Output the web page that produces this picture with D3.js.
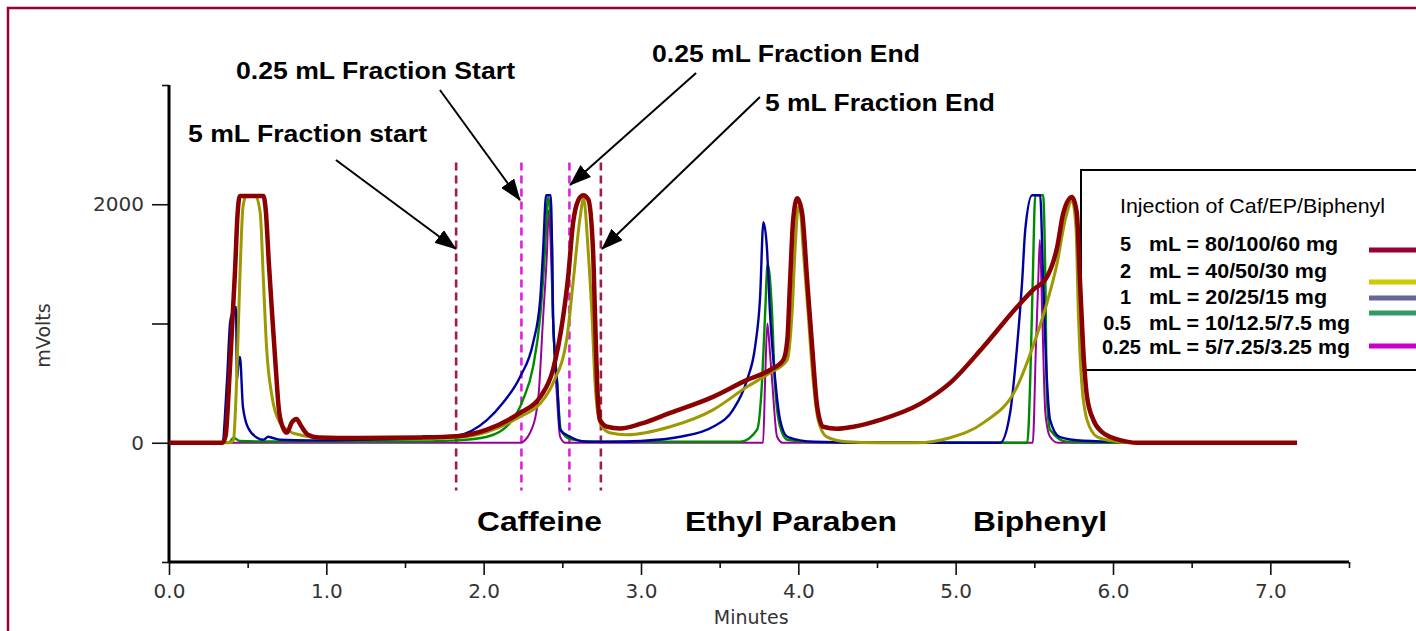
<!DOCTYPE html>
<html><head><meta charset="utf-8">
<script src="https://cdn.jsdelivr.net/npm/d3@7"></script>
<style>body{margin:0;background:#fff;} svg{display:block;}</style>
</head><body>
<svg id="chart" width="1416" height="631"></svg>
<script>
// ---------------- DATA ----------------
const seriesNames = ["5 mL", "2 mL", "1 mL", "0.5 mL", "0.25 mL"];
const legendAmounts = ["5", "2", "1", "0.5", "0.25"];
const legendLabels = ["mL = 80/100/60 mg", "mL = 40/50/30 mg", "mL = 20/25/15 mg", "mL = 10/12.5/7.5 mg", "mL = 5/7.25/3.25 mg"];
const legendTitle = "Injection of Caf/EP/Biphenyl";

// [minutes, mVolts]
const trace5mL = [[0,0],[0.34,0],[0.36,60],[0.38,450],[0.40,950],[0.42,1450],[0.435,1900],[0.45,2070],[0.60,2070],[0.615,1950],[0.635,1500],[0.655,1090],[0.68,600],[0.70,260],[0.73,110],[0.75,85],[0.78,170],[0.81,200],[0.84,140],[0.88,70],[0.95,45],[1.2,40],[1.6,45],[1.83,55],[2.02,110],[2.23,250],[2.36,385],[2.44,610],[2.505,1055],[2.537,1390],[2.568,1840],[2.60,2030],[2.632,2075],[2.665,2040],[2.695,1615],[2.708,1055],[2.721,500],[2.74,190],[2.785,134],[2.867,120],[3.0,160],[3.185,250],[3.458,385],[3.674,527],[3.82,610],[3.905,695],[3.93,862],[3.948,1364],[3.967,1866],[3.993,2050],[4.024,1925],[4.056,1364],[4.088,803],[4.12,301],[4.158,134],[4.247,117],[4.35,134],[4.52,192],[4.774,326],[4.965,502],[5.175,803],[5.39,1138],[5.49,1280],[5.58,1390],[5.645,1640],[5.684,1925],[5.74,2060],[5.77,1925],[5.79,1364],[5.81,803],[5.835,385],[5.875,192],[5.93,90],[5.98,50],[6.05,20],[6.15,0],[7.17,0]];
const trace2mL = [[0,0],[0.38,0],[0.40,10],[0.41,25],[0.43,527],[0.45,1364],[0.47,1975],[0.49,2070],[0.55,2070],[0.58,1925],[0.60,1364],[0.62,803],[0.655,385],[0.705,167],[0.77,92],[0.83,67],[0.94,42],[1.2,35],[1.6,38],[1.83,45],[2.02,90],[2.231,218],[2.36,330],[2.441,500],[2.53,887],[2.568,1340],[2.613,1890],[2.635,2050],[2.664,1615],[2.689,1055],[2.708,500],[2.74,167],[2.80,84],[2.91,67],[3.185,134],[3.458,276],[3.674,469],[3.82,586],[3.93,695],[3.96,1088],[3.98,1640],[4.0,1980],[4.015,1925],[4.03,1640],[4.062,1088],[4.094,527],[4.126,192],[4.18,50],[4.31,8],[4.5,0],[4.75,0],[4.965,42],[5.175,167],[5.39,469],[5.49,803],[5.58,1172],[5.645,1506],[5.696,1866],[5.74,2030],[5.765,1800],[5.78,1088],[5.80,527],[5.835,192],[5.9,50],[6.03,8],[6.08,0]];
const trace1mL = [[0,0],[0.337,0],[0.369,527],[0.388,1004],[0.40,1080],[0.426,1138],[0.432,527],[0.44,650],[0.451,720],[0.47,301],[0.503,125],[0.56,42],[0.60,25],[0.63,50],[0.66,40],[0.705,25],[0.9,20],[1.2,25],[1.6,35],[1.83,59],[2.022,192],[2.123,335],[2.231,552],[2.314,837],[2.359,1197],[2.378,1615],[2.397,2075],[2.426,2075],[2.435,1615],[2.441,1055],[2.467,500],[2.486,109],[2.549,50],[2.657,8],[2.8,8],[3.0,15],[3.249,50],[3.458,134],[3.585,276],[3.674,527],[3.725,803],[3.757,1222],[3.778,1850],[3.80,1640],[3.82,1088],[3.853,527],[3.884,192],[3.93,50],[4.1,8],[4.5,0],[5.283,0],[5.346,251],[5.39,803],[5.423,1364],[5.442,1782],[5.486,2075],[5.537,2075],[5.556,1364],[5.58,527],[5.60,192],[5.66,50],[5.81,17],[6.08,8]];
const trace05mL = [[0,0],[0.38,0],[0.41,42],[0.45,15],[0.6,10],[1.5,10],[1.83,20],[2.022,50],[2.168,167],[2.25,360],[2.314,636],[2.359,1055],[2.39,1615],[2.41,2060],[2.425,1900],[2.435,1615],[2.441,1055],[2.467,500],[2.49,109],[2.55,30],[2.7,8],[3.63,8],[3.738,109],[3.77,527],[3.789,1088],[3.805,1500],[3.833,1088],[3.85,527],[3.884,134],[3.93,25],[4.1,5],[5.455,0],[5.474,527],[5.49,1364],[5.506,2075],[5.556,2075],[5.57,1364],[5.58,385],[5.6,109],[5.71,8],[6.08,0]];
const trace025mL = [[0,0],[2.231,0],[2.295,84],[2.346,360],[2.378,1055],[2.403,1615],[2.413,1950],[2.425,1700],[2.44,1055],[2.467,360],[2.486,50],[2.52,0],[3.776,0],[3.789,527],[3.803,1000],[3.82,750],[3.833,527],[3.865,50],[3.9,0],[5.49,0],[5.51,803],[5.525,1364],[5.535,1700],[5.55,1088],[5.57,251],[5.6,50],[5.65,0],[6.08,0]];

const xTicks = [0, 1, 2, 3, 4, 5, 6, 7];
const xMinorTicks = [0.5, 1.5, 2.5, 3.5, 4.5, 5.5, 6.5, 7.5];
const yTicks = [0, 1000, 2000];
const yTickLabels = ["0", "", "2000"];
const yEndTicks = [-1000, 3000];

const fractionTimes = [1.825, 2.24, 2.545, 2.745];
const fractionKinds = ["5 mL", "0.25 mL", "0.25 mL", "5 mL"];
const fractionRange = [-400, 2350];

const annotationTexts = ["5 mL Fraction start", "0.25 mL Fraction Start", "0.25 mL Fraction End", "5 mL Fraction End"];
const arrowFrom = [[1.061, 2371], [1.722, 2958], [3.35, 3100], [3.756, 2899]];
const arrowTo = [[1.824, 1625], [2.231, 2034], [2.549, 2161], [2.752, 1625]];

const compoundNames = ["Caffeine", "Ethyl Paraben", "Biphenyl"];

// ---------------- STYLE ----------------
const lineColors = {"5 mL": "#8b0000", "2 mL": "#9d9900", "1 mL": "#0000a0", "0.5 mL": "#008a00", "0.25 mL": "#990099"};
const lineWidths = {"5 mL": 4.5, "2 mL": 3, "1 mL": 2.4, "0.5 mL": 2.4, "0.25 mL": 2};
const legendColors = ["#990033", "#cccc00", "#666699", "#339966", "#cc00cc"];
const fractionColors = {"5 mL": "#9b1f4a", "0.25 mL": "#e020e0"};
const traces = {"5 mL": trace5mL, "2 mL": trace2mL, "1 mL": trace1mL, "0.5 mL": trace05mL, "0.25 mL": trace025mL};

const svg = d3.select("#chart");
const x = d3.scaleLinear().domain([0, 7.5]).range([169, 1349]);
const y = d3.scaleLinear().domain([-1000, 3000]).range([562, 85]);

svg.append("rect").attr("width", 1416).attr("height", 631).attr("fill", "#ffffff");
svg.append("rect").attr("x", 8).attr("y", 8).attr("width", 1440).attr("height", 660)
  .attr("fill", "none").attr("stroke", "#990033").attr("stroke-width", 2.5);

// legend box (drawn under curves)
svg.append("rect").attr("x", 1081).attr("y", 170).attr("width", 400).attr("height", 200)
  .attr("fill", "none").attr("stroke", "#000").attr("stroke-width", 2);

const tickFont = "'DejaVu Sans', Verdana, sans-serif";

// X axis
const gx = svg.append("g").attr("transform", `translate(0,${y(-1000)})`)
  .call(d3.axisBottom(x).tickValues(xTicks).tickSize(13).tickPadding(9).tickFormat(d3.format(".1f")));
gx.select(".domain").remove();
svg.append("g").attr("transform", `translate(0,${y(-1000)})`)
  .call(d3.axisBottom(x).tickValues(xMinorTicks).tickSize(6).tickFormat(""))
  .select(".domain").remove();
svg.append("line").attr("x1", x(0)).attr("x2", x(7.5)).attr("y1", y(-1000)).attr("y2", y(-1000))
  .attr("stroke", "#000").attr("stroke-width", 3);

// Y axis
const gy = svg.append("g").attr("transform", `translate(${x(0)},0)`)
  .call(d3.axisLeft(y).tickValues(yTicks).tickSize(17).tickPadding(8).tickFormat((d, i) => yTickLabels[i]));
gy.select(".domain").remove();
svg.append("g").attr("transform", `translate(${x(0)},0)`)
  .call(d3.axisLeft(y).tickValues(yEndTicks).tickSize(7).tickFormat(""))
  .select(".domain").remove();
svg.append("line").attr("x1", x(0)).attr("x2", x(0)).attr("y1", y(3000)).attr("y2", y(-1000) + 1)
  .attr("stroke", "#000").attr("stroke-width", 3);

svg.selectAll(".tick line").attr("stroke", "#111").attr("stroke-width", 1.6);
svg.selectAll(".tick text").attr("font-family", tickFont).attr("font-size", 20).attr("fill", "#333");

svg.append("text").attr("x", x(3.7)).attr("y", 624).attr("text-anchor", "middle")
  .attr("font-family", tickFont).attr("font-size", 19).attr("fill", "#333").text("Minutes");
svg.append("text").attr("transform", `translate(50,${y(1000) + 12}) rotate(-90)`).attr("text-anchor", "middle")
  .attr("font-family", tickFont).attr("font-size", 19).attr("fill", "#333").text("mVolts");

// fraction dashed lines
svg.append("g").selectAll("line").data(fractionTimes).join("line")
  .attr("x1", d => x(d)).attr("x2", d => x(d))
  .attr("y1", y(fractionRange[1])).attr("y2", y(fractionRange[0]))
  .attr("stroke", (d, i) => fractionColors[fractionKinds[i]])
  .attr("stroke-width", 2.6).attr("stroke-dasharray", "8,5");

// traces
const line = d3.line().x(d => x(d[0])).y(d => y(d[1])).curve(d3.curveMonotoneX);
const drawOrder = ["0.25 mL", "0.5 mL", "1 mL", "2 mL", "5 mL"];
svg.append("g").selectAll("path").data(drawOrder).join("path")
  .attr("d", k => line(traces[k]))
  .attr("fill", "none")
  .attr("stroke", k => lineColors[k])
  .attr("stroke-width", k => lineWidths[k])
  .attr("stroke-linejoin", "round");

// arrows
const defs = svg.append("defs");
defs.append("marker").attr("id", "arrowhead").attr("markerUnits", "userSpaceOnUse")
  .attr("markerWidth", 22).attr("markerHeight", 16).attr("refX", 21).attr("refY", 8).attr("orient", "auto")
  .append("path").attr("d", "M0,0 L22,8 L0,16 Z").attr("fill", "#000");
svg.append("g").selectAll("line").data(arrowFrom).join("line")
  .attr("x1", d => x(d[0])).attr("y1", d => y(d[1]))
  .attr("x2", (d, i) => x(arrowTo[i][0])).attr("y2", (d, i) => y(arrowTo[i][1]))
  .attr("stroke", "#000").attr("stroke-width", 2).attr("marker-end", "url(#arrowhead)");

// annotation texts
const annFont = "'Liberation Sans', Arial, sans-serif";
const annPos = [[188, 142, 239], [236, 79, 279], [652, 62, 268], [765, 111, 230]];
svg.append("g").selectAll("text").data(annotationTexts).join("text")
  .attr("x", (d, i) => annPos[i][0]).attr("y", (d, i) => annPos[i][1])
  .attr("textLength", (d, i) => annPos[i][2]).attr("lengthAdjust", "spacingAndGlyphs")
  .attr("font-family", annFont).attr("font-weight", "bold").attr("font-size", 23).attr("fill", "#000")
  .text(d => d);

const compPos = [[477, 531, 125], [685, 531, 212], [973, 531, 134]];
svg.append("g").selectAll("text").data(compoundNames).join("text")
  .attr("x", (d, i) => compPos[i][0]).attr("y", (d, i) => compPos[i][1])
  .attr("textLength", (d, i) => compPos[i][2]).attr("lengthAdjust", "spacingAndGlyphs")
  .attr("font-family", annFont).attr("font-weight", "bold").attr("font-size", 27).attr("fill", "#000")
  .text(d => d);

// legend
svg.append("text").attr("x", 1120).attr("y", 213).attr("textLength", 265).attr("lengthAdjust", "spacingAndGlyphs")
  .attr("font-family", annFont).attr("font-size", 21).attr("fill", "#000").text(legendTitle);
const rowBase = [251, 278, 304, 330, 354];
const rowEnd = [1338, 1327, 1327, 1350, 1350];
const swatchY = [250, 282, 298, 313, 346];
const lg = svg.append("g");
lg.selectAll("text.amt").data(legendAmounts).join("text").attr("class", "amt")
  .attr("x", d => d.length > 3 ? 1102 : 1131).attr("text-anchor", d => d.length > 3 ? "start" : "end")
  .attr("y", (d, i) => rowBase[i])
  .attr("font-family", annFont).attr("font-weight", "bold").attr("font-size", 20).attr("fill", "#000")
  .text(d => d);
lg.selectAll("text.lab").data(legendLabels).join("text").attr("class", "lab")
  .attr("x", 1149).attr("y", (d, i) => rowBase[i])
  .attr("textLength", (d, i) => rowEnd[i] - 1149).attr("lengthAdjust", "spacingAndGlyphs")
  .attr("font-family", annFont).attr("font-weight", "bold").attr("font-size", 20).attr("fill", "#000")
  .text(d => d);
lg.selectAll("line").data(legendColors).join("line")
  .attr("x1", 1369).attr("x2", 1420).attr("y1", (d, i) => swatchY[i]).attr("y2", (d, i) => swatchY[i])
  .attr("stroke", d => d).attr("stroke-width", 5);
</script>
</body></html>
